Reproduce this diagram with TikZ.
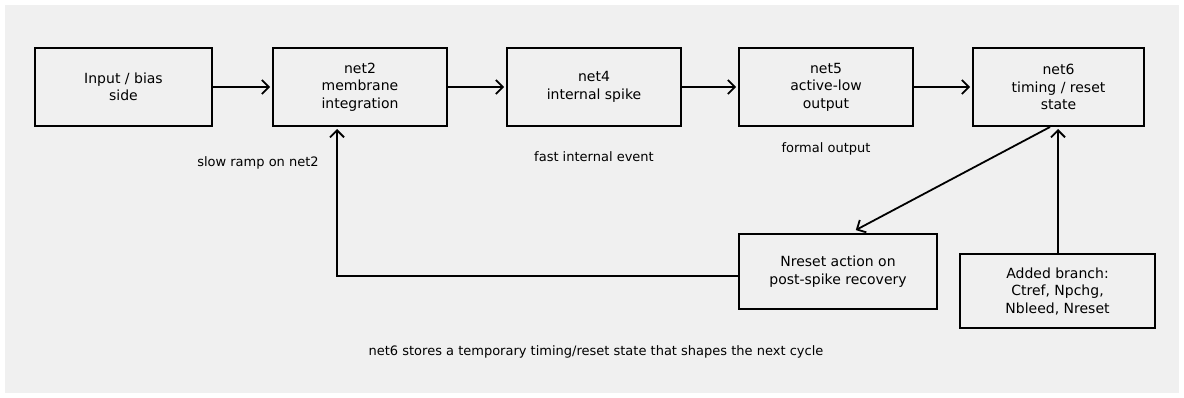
\documentclass[tikz,border=0pt]{standalone}
\usepackage{fontspec}
\setmainfont{DejaVu Sans}
\usetikzlibrary{arrows.meta}
\begin{document}
\begin{tikzpicture}[x=1pt,y=-1pt,
  blk/.style={draw=black,line width=1.8pt,minimum width=174pt,minimum height=78pt,align=center,font=\fontsize{14pt}{17.5pt}\selectfont,inner sep=0pt},
  lbl/.style={font=\fontsize{13pt}{16pt}\selectfont,inner sep=0pt},
  conn/.style={line width=1.8pt,shorten >=2pt,-{Straight Barb[length=7pt,width=14pt,line width=1.8pt]}}]
\useasboundingbox (0,0) rectangle (1184,398);
\fill[white] (0,0) rectangle (1184,398);
\fill[black!6] (5,5) rectangle (1179,393);
\node[blk,minimum width=177pt] (inp) at (123.5,87) {Input / bias\\side};
\node[blk] (n2) at (360,87) {net2\\membrane\\integration};
\node[blk] (n4) at (594,87) {net4\\internal spike};
\node[blk] (n5) at (826,87) {net5\\active-low\\output};
\node[blk,minimum width=171pt] (n6) at (1058.5,87) {net6\\timing / reset\\state};
\node[blk,minimum width=198pt,minimum height=75pt] (nr) at (838,271.5) {Nreset action on\\post-spike recovery};
\node[blk,minimum width=195pt,minimum height=74pt] (ab) at (1057.5,291) {Added branch:\\Ctref, Npchg,\\Nbleed, Nreset};
\node[lbl] (l1) at (258,163) {slow ramp on net2};
\node[lbl] (l2) at (594,157) {fast internal event};
\node[lbl] (l3) at (826,149) {formal output};
\node[lbl] (l4) at (596,352) {net6 stores a temporary timing/reset state that shapes the next cycle};
\coordinate (s6) at (1050,127);
\coordinate (t6) at (854,231);
\coordinate (ab6) at (1058,127);
\coordinate (fb1) at (337,276);
\coordinate (fb2) at (337,127);
\draw[conn] (inp) -- (n2);
\draw[conn] (n2) -- (n4);
\draw[conn] (n4) -- (n5);
\draw[conn] (n5) -- (n6);
\draw[conn] (s6) -- (t6);
\draw[conn] (ab.north -| ab6) -- (ab6);
\draw[conn] (nr.west |- fb1) -- (fb1) -- (fb2);
\end{tikzpicture}
\end{document}
